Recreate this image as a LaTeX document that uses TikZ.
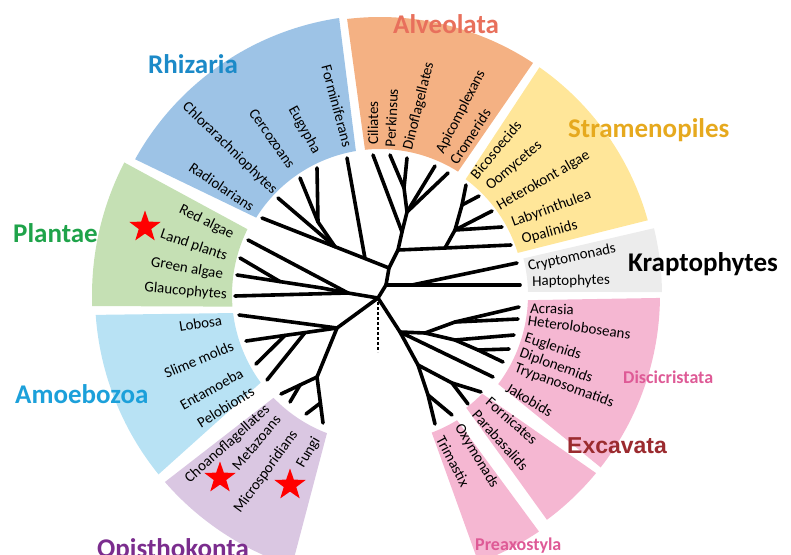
\documentclass[tikz,border=0pt]{standalone}
\usepackage{fontspec}
\setmainfont{Carlito}
\newfontfamily\arialfont{Liberation Sans}
\usetikzlibrary{shapes.geometric}

\definecolor{rhizfill}{RGB}{157,195,230}
\definecolor{rhiztext}{RGB}{28,138,200}
\definecolor{alvfill}{RGB}{244,177,131}
\definecolor{alvtext}{RGB}{232,112,92}
\definecolor{strafill}{RGB}{255,230,153}
\definecolor{stratext}{RGB}{230,169,30}
\definecolor{kraptfill}{RGB}{236,236,236}
\definecolor{excfill}{RGB}{245,183,210}
\definecolor{disctext}{RGB}{222,90,150}
\definecolor{exctext}{RGB}{155,43,47}
\definecolor{opifill}{RGB}{218,199,226}
\definecolor{opitext}{RGB}{123,45,142}
\definecolor{amofill}{RGB}{184,226,244}
\definecolor{amotext}{RGB}{28,160,218}
\definecolor{plafill}{RGB}{197,224,180}
\definecolor{platext}{RGB}{31,163,74}

% colour, outer start, outer end, inner start, inner end, outer radius, inner radius
\newcommand{\drawsector}[7]{\fill[#1] (#2:#6) arc[start angle=#2,end angle=#3,radius=#6] -- (#5:#7) arc[start angle=#5,end angle=#4,radius=#7] -- cycle;}

\begin{document}
\begin{tikzpicture}[x=1pt,y=1pt,
    taxon/.style={font=\fontsize{15}{15}\selectfont,inner sep=0pt},
    group/.style={font=\fontsize{27}{27}\selectfont\bfseries,inner sep=0pt,anchor=base west},
    subgroup/.style={font=\fontsize{18}{18}\selectfont\bfseries,inner sep=0pt,anchor=base west,text=disctext},
    branch/.style={line width=3.6pt,line cap=round,line join=round},
    starmark/.style={star,star points=5,star point ratio=2.5,fill=red,minimum size=33pt,inner sep=0pt}]
\useasboundingbox (0,0) rectangle (791,-554);
\clip (0,0) rectangle (791,-554);

\begin{scope}[shift={(380,-295)}]
\drawsector{rhizfill}{98.4}{151}{99.5}{148}{280}{146}
\drawsector{alvfill}{56.6}{96.8}{57.7}{95.9}{278}{146}
\drawsector{strafill}{15.6}{55}{17}{53.5}{278}{144}
\drawsector{kraptfill}{0.6}{13.7}{1.2}{14.3}{282}{148}
\drawsector{excfill}{-38}{-0.6}{-37}{-2}{280}{148}
\drawsector{excfill}{-53.4}{-39.5}{-52.6}{-44}{280}{142}
\drawsector{excfill}{-69.8}{-56.1}{-69.4}{-58.4}{285}{147}
\drawsector{opifill}{221}{252}{224}{249}{285}{148}
\drawsector{amofill}{184}{219}{187}{216.3}{285}{148}
\drawsector{plafill}{152.6}{182.2}{153.6}{184.5}{288}{148}
\end{scope}

\coordinate (root) at (378,-298);
\coordinate (rootend) at (378,-352);
\coordinate (kr) at (386,-285);
\coordinate (krc) at (412,-285);
\coordinate (sar) at (389,-268);
\coordinate (rhf) at (365,-258.5);
\coordinate (rh1) at (335,-246.7);
\coordinate (rh2) at (318,-222);
\coordinate (st0) at (398,-250);
\coordinate (st1) at (445,-248);
\coordinate (st2) at (455,-230);
\coordinate (st3) at (462,-205);
\coordinate (al0) at (402,-232);
\coordinate (al1) at (407,-212);
\coordinate (al2) at (404,-188);
\coordinate (pl0) at (348,-293);
\coordinate (pl1) at (322,-288);
\coordinate (pl2) at (280,-281.6);
\coordinate (un0) at (337,-328);
\coordinate (am1) at (305,-332.6);
\coordinate (am2) at (285,-335.4);
\coordinate (op0) at (317,-377);
\coordinate (op1) at (300,-385);
\coordinate (op2) at (320.4,-403);
\coordinate (ex0) at (400,-332);
\coordinate (dc0) at (425,-333);
\coordinate (he0) at (455,-322);
\coordinate (eu0) at (455,-340);
\coordinate (eu1) at (478,-350);
\coordinate (ex1) at (418,-365);
\coordinate (fo0) at (452,-383);
\coordinate (pr0) at (428,-395);

\coordinate (tforam) at (347,-158);
\coordinate (teugy) at (317,-168);
\coordinate (tcerco) at (300,-178);
\coordinate (tchlor) at (278,-198);
\coordinate (tradio) at (262,-218);
\coordinate (tred) at (248,-240);
\coordinate (tland) at (240,-258);
\coordinate (tgreen) at (237,-275);
\coordinate (tglauc) at (235,-296);
\coordinate (tlobo) at (239,-315);
\coordinate (tslime) at (246,-341);
\coordinate (tenta) at (256,-364);
\coordinate (tpelo) at (267,-380);
\coordinate (tchoa) at (281,-394);
\coordinate (tmeta) at (290,-402);
\coordinate (tmicro) at (306,-414);
\coordinate (tfungi) at (323,-423);
\coordinate (tcili) at (373,-155);
\coordinate (tperk) at (390,-155);
\coordinate (tdino) at (407,-158);
\coordinate (tapi) at (435,-166);
\coordinate (tcrom) at (448,-173);
\coordinate (tbico) at (466,-185);
\coordinate (toomy) at (479,-196);
\coordinate (thete) at (492,-211);
\coordinate (tlaby) at (502,-227);
\coordinate (topal) at (511,-245);
\coordinate (tcrypt) at (517,-263);
\coordinate (thapt) at (520,-285);
\coordinate (tacra) at (519,-307);
\coordinate (thetl) at (518,-319);
\coordinate (teugl) at (514,-335);
\coordinate (tdipl) at (509,-349);
\coordinate (ttryp) at (503,-362);
\coordinate (tjako) at (493,-377);
\coordinate (tforn) at (481,-392);
\coordinate (tpara) at (468,-404);
\coordinate (toxym) at (452,-415);
\coordinate (ttrim) at (435,-424);

\path[branch]
    (root) edge (kr)
    (kr) edge (krc) (krc) edge (thapt) (krc) edge (tcrypt)
    (kr) edge (sar)
    (sar) edge (rhf) (rhf) edge (rh1) (rh1) edge (tradio) (rhf) edge (tforam)
    (rh1) edge (tchlor) (rh1) edge (rh2) (rh2) edge (tcerco) (rh2) edge (teugy)
    (sar) edge (st0) (st0) edge (st1) (st1) edge (topal) (st1) edge (st2)
    (st2) edge (tlaby) (st2) edge (thete) (st2) edge (st3) (st3) edge (toomy) (st3) edge (tbico)
    (st0) edge (al0) (al0) edge (tcili) (al0) edge (al1) (al1) edge (tapi) (al1) edge (tcrom)
    (al1) edge (al2) (al2) edge (tperk) (al2) edge (tdino)
    (root) edge (pl0) (pl0) edge (tglauc) (pl0) edge (tred) (pl0) edge (pl1)
    (pl1) edge (pl2) (pl2) edge (tgreen) (pl2) edge (tland)
    (root) edge (un0) (un0) edge (tlobo) (un0) edge (am1) (am1) edge (am2)
    (am2) edge (tslime) (am1) edge (tpelo) (am2) edge (tenta)
    (un0) edge (op0) (op0) edge (op1) (op1) edge (tchoa) (op1) edge (tmeta)
    (op0) edge (op2) (op2) edge (tfungi) (op2) edge (tmicro)
    (root) edge (ex0) (ex0) edge (dc0) (dc0) edge (he0) (he0) edge (tacra) (he0) edge (thetl)
    (dc0) edge (eu0) (eu0) edge (teugl) (eu0) edge (eu1) (eu1) edge (tdipl) (eu1) edge (ttryp)
    (ex0) edge (tjako) (ex0) edge (ex1) (ex1) edge (fo0) (fo0) edge (tforn) (fo0) edge (tpara)
    (ex1) edge (pr0) (pr0) edge (toxym) (pr0) edge (ttrim)
    ;
\draw[line width=2.6pt,dash pattern=on 2.5pt off 2.5pt] ([yshift=-4pt]root) -- (rootend);

\node[taxon,anchor=east,rotate=-75] (forminiferans) at (348,-147) {Forminiferans};
\node[taxon,anchor=east,rotate=-61] (eugypha) at (317,-153) {Eugypha};
\node[taxon,anchor=east,rotate=-55] (cercozoans) at (292,-167) {Cercozoans};
\node[taxon,anchor=east,rotate=-44] (chlorarachniophytes) at (275,-192) {Chlorarachniophytes};
\node[taxon,anchor=east,rotate=-34] (radiolarians) at (253,-208) {Radiolarians};
\node[taxon,anchor=east,rotate=-26] (redalgae) at (233,-235) {Red algae};
\node[taxon,anchor=east,rotate=-19] (landplants) at (227,-257) {Land plants};
\node[taxon,anchor=east,rotate=-10] (greenalgae) at (223,-275) {Green algae};
\node[taxon,anchor=east,rotate=-5] (glaucophytes) at (227,-295) {Glaucophytes};
\node[taxon,anchor=east,rotate=9] (lobosa) at (222,-320) {Lobosa};
\node[taxon,anchor=east,rotate=23] (slimemolds) at (233,-345) {Slime molds};
\node[taxon,anchor=east,rotate=29] (entamoeba) at (242,-372) {Entamoeba};
\node[taxon,anchor=east,rotate=32] (pelobionts) at (253,-390) {Pelobionts};
\node[taxon,anchor=east,rotate=42] (choanoflagellates) at (268,-408) {Choanoflagellates};
\node[taxon,anchor=east,rotate=50] (metazoans) at (278,-417) {Metazoans};
\node[taxon,anchor=east,rotate=54] (microsporidians) at (295,-432) {Microsporidians};
\node[taxon,anchor=east,rotate=60] (fungi) at (317,-438) {Fungi};

\node[taxon,anchor=west,rotate=90] (ciliates) at (373,-145) {Ciliates};
\node[taxon,anchor=west,rotate=87] (perkinsus) at (390,-147) {Perkinsus};
\node[taxon,anchor=west,rotate=76] (dinoflagellates) at (408,-150) {Dinoflagellates};
\node[taxon,anchor=west,rotate=63] (apicomplexans) at (440,-153) {Apicomplexans};
\node[taxon,anchor=west,rotate=57] (cromerids) at (453,-163) {Cromerids};
\node[taxon,anchor=west,rotate=50] (bicosoecids) at (473,-177) {Bicosoecids};
\node[taxon,anchor=west,rotate=40] (oomycetes) at (488,-188) {Oomycetes};
\node[taxon,anchor=west,rotate=30] (heterokont) at (498,-207) {Heterokont algae};
\node[taxon,anchor=west,rotate=20] (labyrinthulea) at (512,-223) {Labyrinthulea};
\node[taxon,anchor=west,rotate=15] (opalinids) at (522,-240) {Opalinids};
\node[taxon,anchor=west,rotate=12] (cryptomonads) at (528,-267) {Cryptomonads};
\node[taxon,anchor=west,rotate=1] (haptophytes) at (532,-282) {Haptophytes};
\node[taxon,anchor=west,rotate=-2] (acrasia) at (530,-308) {Acrasia};
\node[taxon,anchor=west,rotate=-8] (heteroloboseans) at (528,-320) {Heteroloboseans};
\node[taxon,anchor=west,rotate=-18] (euglenids) at (525,-338) {Euglenids};
\node[taxon,anchor=west,rotate=-20] (diplonemids) at (520,-353) {Diplonemids};
\node[taxon,anchor=west,rotate=-20] (trypanosomatids) at (515,-368) {Trypanosomatids};
\node[taxon,anchor=west,rotate=-30] (jakobids) at (507,-387) {Jakobids};
\node[taxon,anchor=west,rotate=-41] (fornicates) at (488,-400) {Fornicates};
\node[taxon,anchor=west,rotate=-48] (parabasalids) at (475,-412) {Parabasalids};
\node[taxon,anchor=west,rotate=-59] (oxymonads) at (458,-425) {Oxymonads};
\node[taxon,anchor=west,rotate=-62] (trimastix) at (440,-437) {Trimastix};

\node[group,text=rhiztext] (rhizaria) at (148,-73) {Rhizaria};
\node[group,text=alvtext] (alveolata) at (393,-33) {Alveolata};
\node[group,text=stratext] (stramenopiles) at (568,-137) {Stramenopiles};
\node[group,text=black] (kraptophytes) at (628,-271) {Kraptophytes};
\node[group,text=platext] (plantae) at (13,-242) {Plantae};
\node[group,text=amotext] (amoebozoa) at (15,-403) {Amoebozoa};
\node[group,text=opitext] (opisthokonta) at (97,-557) {Opisthokonta};
\node[group,text=exctext,font=\fontsize{23}{23}\selectfont\arialfont\bfseries] (excavata) at (567,-453) {Excavata};
\node[subgroup] (discicristata) at (623,-383) {Discicristata};
\node[subgroup] (preaxostyla) at (475,-550) {Preaxostyla};

\node[starmark] (starplantae) at (145,-227) {};
\node[starmark] (starmetazoa) at (220,-478) {};
\node[starmark] (starfungi) at (290,-485) {};
\end{tikzpicture}
\end{document}
